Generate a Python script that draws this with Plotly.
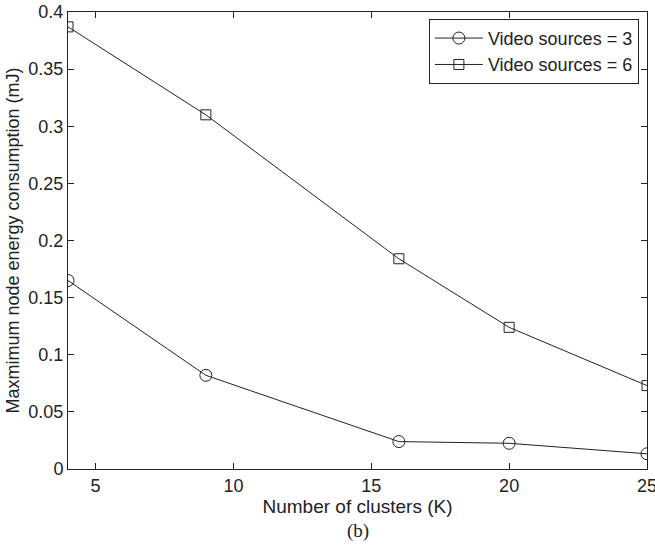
import plotly.graph_objects as go

clusters = [4, 9, 16, 20, 25]
energy_3 = [0.165, 0.082, 0.024, 0.0225, 0.0133]
energy_6 = [0.387, 0.310, 0.184, 0.124, 0.073]
x_ticks = [5, 10, 15, 20, 25]
y_ticks = [0, 0.05, 0.1, 0.15, 0.2, 0.25, 0.3, 0.35, 0.4]
y_tick_text = ["0", "0.05", "0.1", "0.15", "0.2", "0.25", "0.3", "0.35", "0.4"]

FONT = "Liberation Sans, Arial, sans-serif"
LINE = "#222222"

fig = go.Figure()
fig.add_trace(go.Scatter(
    x=clusters, y=energy_3, mode="lines+markers", name="Video sources = 3",
    line=dict(color=LINE, width=1),
    marker=dict(symbol="circle-open", size=12, color=LINE, line=dict(width=1, color=LINE)),
))
fig.add_trace(go.Scatter(
    x=clusters, y=energy_6, mode="lines+markers", name="Video sources = 6",
    line=dict(color=LINE, width=1),
    marker=dict(symbol="square-open", size=10, color=LINE, line=dict(width=1, color=LINE)),
))

axis_common = dict(
    showline=True, linecolor=LINE, linewidth=1, mirror="ticks",
    ticks="inside", ticklen=6, tickcolor=LINE, tickwidth=1,
    showgrid=False, zeroline=False, ticklabeloverflow="allow", automargin=False,
    tickfont=dict(family=FONT, size=18, color="#222"),
)

fig.update_layout(
    width=655, height=546,
    margin=dict(l=68, r=8, t=12, b=77),
    paper_bgcolor="white", plot_bgcolor="white",
    font=dict(family=FONT, color="#222"),
    xaxis=dict(range=[3.9999, 25.0001], tickvals=x_ticks,
               title=dict(text="Number of clusters (K)", font=dict(family=FONT, size=19), standoff=4),
               **axis_common),
    yaxis=dict(range=[0, 0.4], tickvals=y_ticks, ticktext=y_tick_text,
               title=dict(text="Maxmimum node energy consumption (mJ)", font=dict(family=FONT, size=18), standoff=4),
               **axis_common),
    legend=dict(
        x=0.986, y=0.985, xanchor="right", yanchor="top",
        bordercolor=LINE, borderwidth=1, bgcolor="white",
        font=dict(family=FONT, size=18, color="#222"),
        itemwidth=48, tracegroupgap=0,
    ),
    showlegend=True,
)

fig.add_annotation(
    text="(b)", xref="paper", yref="paper", x=0.5, y=-0.135,
    xanchor="center", yanchor="middle", showarrow=False,
    font=dict(family="Liberation Serif, Times New Roman, serif", size=19, color="#222"),
)

fig.write_html("out.html")
